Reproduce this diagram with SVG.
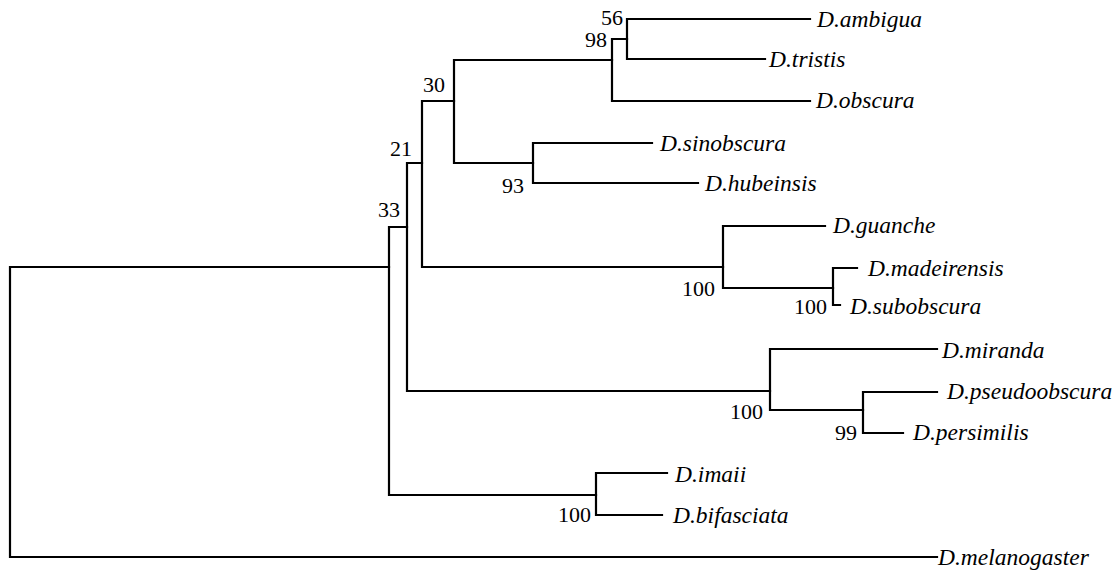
<svg xmlns="http://www.w3.org/2000/svg" width="1120" height="570" viewBox="0 0 1120 570">
<style>
.e{fill:none;stroke:#000;stroke-width:2.2;stroke-linecap:square}
.t{font-family:"Liberation Serif","Times New Roman",serif;font-style:italic;font-size:23.5px;fill:#000}
.b{font-family:"Liberation Serif","Times New Roman",serif;font-size:22px;fill:#000;text-anchor:end}
</style>
<rect width="1120" height="570" fill="#fff"/>
<g id="connectors">
<path class="e" d="M10 267V557M10 267H389M10 557H937"/>
<path class="e" d="M389 227V495M389 227H407M389 495H596"/>
<path class="e" d="M407 163V391M407 163H422M407 391H770"/>
<path class="e" d="M422 101V267M422 101H454M422 267H723"/>
<path class="e" d="M454 60V163M454 60H612M454 163H533"/>
<path class="e" d="M612 39V101M612 39H627M612 101H810"/>
<path class="e" d="M627 19V59M627 19H810M627 59H765"/>
<path class="e" d="M533 143V183M533 143H652M533 183H698"/>
<path class="e" d="M723 226V288M723 226H825M723 288H833"/>
<path class="e" d="M833 268V305M833 268H857M833 305H840"/>
<path class="e" d="M770 349V410M770 349H937M770 410H863"/>
<path class="e" d="M863 392V433M863 392H937M863 433H903"/>
<path class="e" d="M596 473V515M596 473H667M596 515H662"/>
</g>
<g id="n56"><text class="b" x="623" y="25">56</text></g>
<g id="n98"><text class="b" x="607" y="47">98</text></g>
<g id="n30"><text class="b" x="445" y="92">30</text></g>
<g id="n21"><text class="b" x="412" y="156">21</text></g>
<g id="n33"><text class="b" x="400" y="217">33</text></g>
<g id="n93"><text class="b" x="524" y="193">93</text></g>
<g id="n100g"><text class="b" x="715" y="296">100</text></g>
<g id="n100s"><text class="b" x="827" y="314">100</text></g>
<g id="n100m"><text class="b" x="763" y="419">100</text></g>
<g id="n99"><text class="b" x="857" y="440">99</text></g>
<g id="n100i"><text class="b" x="591" y="522">100</text></g>
<g id="ambigua"><text class="t" x="817" y="27">D.ambigua</text></g>
<g id="tristis"><text class="t" x="769" y="67">D.tristis</text></g>
<g id="obscura"><text class="t" x="816" y="108">D.obscura</text></g>
<g id="sinobscura"><text class="t" x="660" y="151">D.sinobscura</text></g>
<g id="hubeinsis"><text class="t" x="705" y="191">D.hubeinsis</text></g>
<g id="guanche"><text class="t" x="833" y="233">D.guanche</text></g>
<g id="madeirensis"><text class="t" x="868" y="276">D.madeirensis</text></g>
<g id="subobscura"><text class="t" x="850" y="314">D.subobscura</text></g>
<g id="miranda"><text class="t" x="942" y="358">D.miranda</text></g>
<g id="pseudoobscura"><text class="t" x="947" y="399">D.pseudoobscura</text></g>
<g id="persimilis"><text class="t" x="913" y="440">D.persimilis</text></g>
<g id="imaii"><text class="t" x="675" y="482">D.imaii</text></g>
<g id="bifasciata"><text class="t" x="673" y="523">D.bifasciata</text></g>
<g id="melanogaster"><text class="t" x="938" y="565">D.melanogaster</text></g>
</svg>
